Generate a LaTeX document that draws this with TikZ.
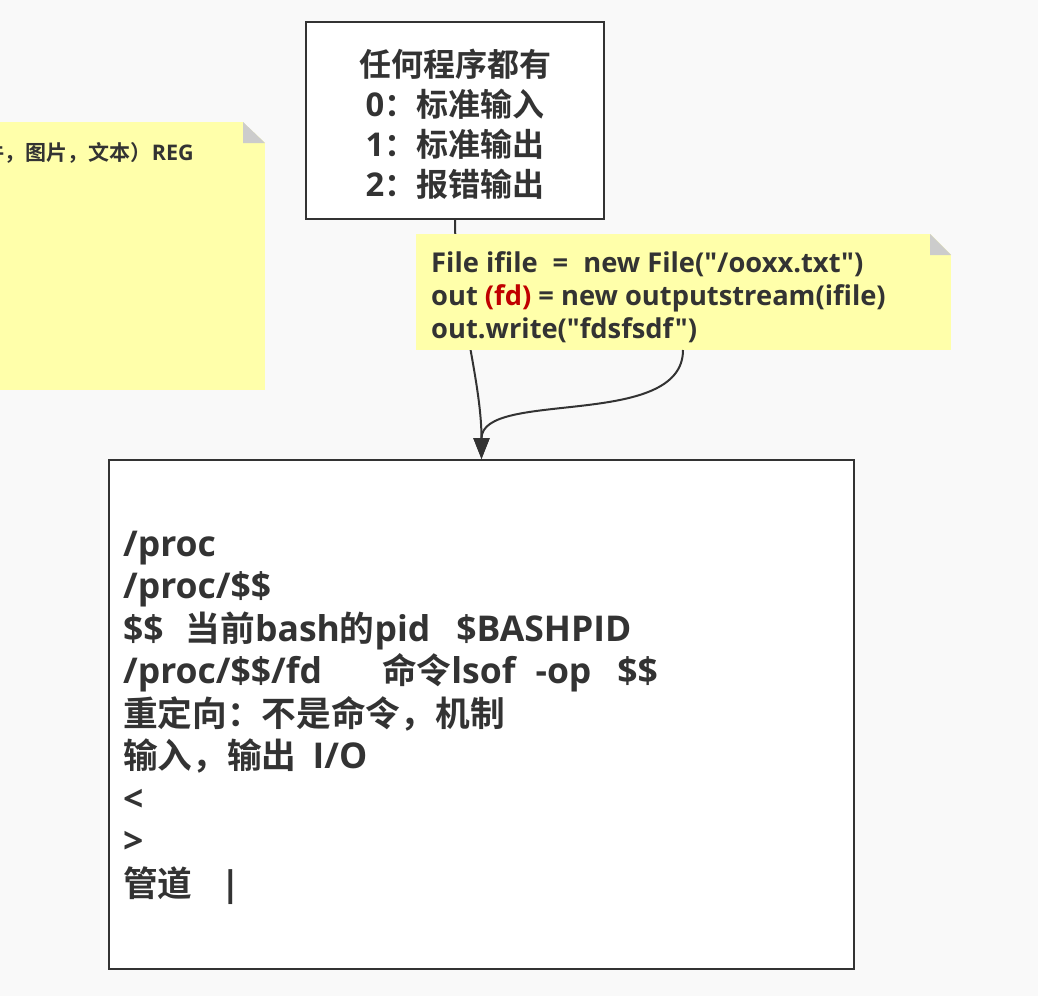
\documentclass[tikz,border=0pt]{standalone}
\usepackage{fontspec}
\newfontfamily\latin{Open Sans}
\newfontfamily\zhfont{Noto Sans CJK SC}[BoldFont={Noto Sans CJK SC Bold}, Scale=0.977]
\newcommand\zh[1]{{\zhfont #1}}
\usetikzlibrary{arrows.meta}
\definecolor{ink}{HTML}{333333}
\definecolor{bgc}{HTML}{F9F9F9}
\definecolor{notey}{HTML}{FFFFAA}
\definecolor{foldc}{HTML}{CCCCCC}
\definecolor{redc}{HTML}{C00000}
\tikzset{
  boxst/.style={draw=ink, line width=2pt, fill=white, inner sep=0pt},
  notest/.style={fill=notey, inner sep=0pt},
  toptxt/.style={text=ink, font=\latin\bfseries\fontsize{32.75}{40}\selectfont, inner sep=0pt, anchor=base},
  bigtxt/.style={text=ink, font=\latin\bfseries\fontsize{35.5}{42}\selectfont, inner sep=0pt, anchor=base west},
  midtxt/.style={text=ink, font=\latin\bfseries\fontsize{27.3}{33}\selectfont, inner sep=0pt, anchor=base west},
  smalltxt/.style={text=ink, font=\latin\bfseries\fontsize{21.5}{24}\selectfont, inner sep=0pt},
  conn/.style={draw=ink, line width=2pt, -{Triangle[width=16pt,length=21pt]}},
}
\begin{document}
\begin{tikzpicture}[x=1pt,y=-1pt]
\useasboundingbox (0,0) rectangle (1038,996);
\fill[bgc] (0,0) rectangle (1038,996);
% left note
\node[notest, minimum width=285pt, minimum height=268pt] (lnote) at (122.5,256) {};
\fill[bgc] (243,122) -- (265.5,122) -- (265.5,143) -- cycle;
\fill[foldc] (243,122) -- (243,143) -- (265,143) -- cycle;
\node[smalltxt, anchor=base east] (ltxt) at (194,160) {\zh{件，图片，文本）}REG};
% top box
\node[boxst, minimum width=298pt, minimum height=197pt] (top) at (455,120.5) {};
\node[toptxt] (t1) at (455,76) {\zh{任何程序都有}};
\node[toptxt] (t2) at (455,116) {0\zh{：标准输入}};
\node[toptxt] (t3) at (455,156) {1\zh{：标准输出}};
\node[toptxt] (t4) at (455,196) {2\zh{：报错输出}};
% bottom box
\node[boxst, minimum width=745pt, minimum height=509pt] (bot) at (481.5,714.5) {};
\node[bigtxt] (b1) at (123,556) {/proc};
\node[bigtxt] (b2) at (123,598.5) {/proc/\$\$};
\node[bigtxt] (b3) at (123,641) {\$\$\hspace{22pt}\zh{当前}bash\zh{的}pid\hspace{26pt}\$BASHPID};
\node[bigtxt] (b4) at (123,683.5) {/proc/\$\$/fd\hspace{60pt}\zh{命令}lsof\hspace{20pt}-op\hspace{26pt}\$\$};
\node[bigtxt] (b5) at (123,726) {\zh{重定向：不是命令，机制}};
\node[bigtxt] (b6) at (123,768.5) {\zh{输入，输出}\hspace{16pt}I/O};
\node[bigtxt] (b7) at (123,811) {<};
\node[bigtxt] (b8) at (123,853.5) {>};
\node[bigtxt] (b9) at (123,896) {\zh{管道}\hspace{28pt}|};
% connector from top box
\draw[conn] (top.south) .. controls +(0,80) and +(0,-80) .. (bot.north);
% middle note
\node[notest, minimum width=535pt, minimum height=116pt] (mnote) at (683.5,292) {};
\fill[bgc] (930,233.5) -- (951.5,233.5) -- (951.5,255) -- cycle;
\fill[foldc] (930,234) -- (930,255) -- (951,255) -- cycle;
\node[midtxt] (m1) at (431,272) {File ifile\hspace{15pt}=\hspace{15pt}new File("/ooxx.txt")};
\node[midtxt] (m2) at (431,305) {out {\color{redc}(fd)} = new outputstream(ifile)};
\node[midtxt] (m3) at (431,338) {out.write("fdsfsdf")};
\coordinate (mout) at (683,350);
\draw[conn] (mout) .. controls +(0,80) and +(0,-70) .. (bot.north);
\end{tikzpicture}
\end{document}
